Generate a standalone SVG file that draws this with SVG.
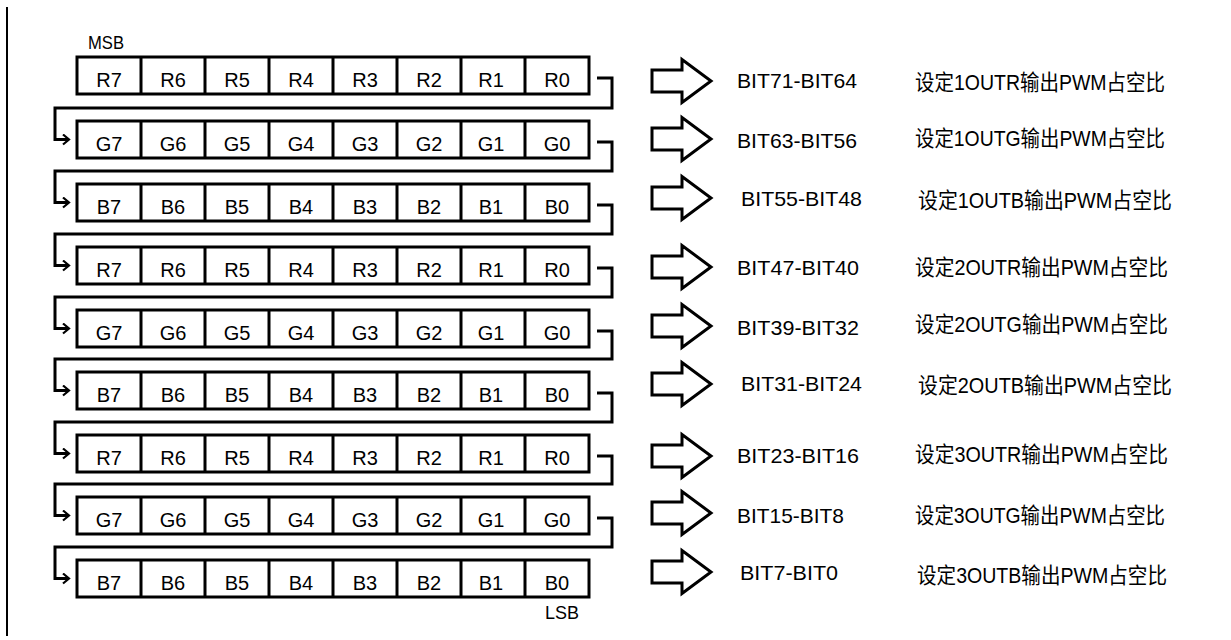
<svg xmlns="http://www.w3.org/2000/svg" width="1231" height="640" viewBox="0 0 1231 640">
<defs>
<style>
.cell{fill:none;stroke:#000;stroke-width:3}
.lbl{font-family:"Liberation Sans",Arial,sans-serif;font-size:20px;fill:#000;text-anchor:middle}
.bit{font-family:"Liberation Sans",Arial,sans-serif;font-size:21px;fill:#000}
.cn{font-family:"Liberation Sans","Noto Sans CJK SC",sans-serif;font-size:21.5px;fill:#000}
.conn{fill:none;stroke:#000;stroke-width:3}
.blk{fill:#fff;stroke:#000;stroke-width:3;stroke-linejoin:miter}
.tag{font-family:"Liberation Sans",Arial,sans-serif;font-size:18px;fill:#000}
</style>
<marker id="ah" markerUnits="userSpaceOnUse" markerWidth="12" markerHeight="14" refX="7" refY="6" orient="auto">
<path d="M1,1 L7,6 L1,11" fill="none" stroke="#000" stroke-width="2.2"/>
</marker>
</defs>
<rect width="1231" height="640" fill="#fff"/>
<line x1="7" y1="7" x2="7" y2="636" stroke="#000" stroke-width="2"/>
<text class="tag" x="88" y="49" textLength="36" lengthAdjust="spacingAndGlyphs">MSB</text>
<text class="tag" x="545" y="619" textLength="34" lengthAdjust="spacingAndGlyphs">LSB</text>

<g id="row1">
<rect class="cell" x="77" y="57" width="512" height="37"/>
<path class="cell" d="M141,57V94M205,57V94M269,57V94M333,57V94M397,57V94M461,57V94M525,57V94"/>
<text class="lbl" y="87"><tspan x="109">R7</tspan><tspan x="173">R6</tspan><tspan x="237">R5</tspan><tspan x="301">R4</tspan><tspan x="365">R3</tspan><tspan x="429">R2</tspan><tspan x="491">R1</tspan><tspan x="557">R0</tspan></text>
</g>
<g id="row2">
<rect class="cell" x="77" y="121" width="512" height="37"/>
<path class="cell" d="M141,121V158M205,121V158M269,121V158M333,121V158M397,121V158M461,121V158M525,121V158"/>
<text class="lbl" y="151"><tspan x="109">G7</tspan><tspan x="173">G6</tspan><tspan x="237">G5</tspan><tspan x="301">G4</tspan><tspan x="365">G3</tspan><tspan x="429">G2</tspan><tspan x="491">G1</tspan><tspan x="557">G0</tspan></text>
</g>
<g id="row3">
<rect class="cell" x="77" y="184" width="512" height="37"/>
<path class="cell" d="M141,184V221M205,184V221M269,184V221M333,184V221M397,184V221M461,184V221M525,184V221"/>
<text class="lbl" y="214"><tspan x="109">B7</tspan><tspan x="173">B6</tspan><tspan x="237">B5</tspan><tspan x="301">B4</tspan><tspan x="365">B3</tspan><tspan x="429">B2</tspan><tspan x="491">B1</tspan><tspan x="557">B0</tspan></text>
</g>
<g id="row4">
<rect class="cell" x="77" y="247" width="512" height="37"/>
<path class="cell" d="M141,247V284M205,247V284M269,247V284M333,247V284M397,247V284M461,247V284M525,247V284"/>
<text class="lbl" y="277"><tspan x="109">R7</tspan><tspan x="173">R6</tspan><tspan x="237">R5</tspan><tspan x="301">R4</tspan><tspan x="365">R3</tspan><tspan x="429">R2</tspan><tspan x="491">R1</tspan><tspan x="557">R0</tspan></text>
</g>
<g id="row5">
<rect class="cell" x="77" y="310" width="512" height="37"/>
<path class="cell" d="M141,310V347M205,310V347M269,310V347M333,310V347M397,310V347M461,310V347M525,310V347"/>
<text class="lbl" y="340"><tspan x="109">G7</tspan><tspan x="173">G6</tspan><tspan x="237">G5</tspan><tspan x="301">G4</tspan><tspan x="365">G3</tspan><tspan x="429">G2</tspan><tspan x="491">G1</tspan><tspan x="557">G0</tspan></text>
</g>
<g id="row6">
<rect class="cell" x="77" y="372" width="512" height="37"/>
<path class="cell" d="M141,372V409M205,372V409M269,372V409M333,372V409M397,372V409M461,372V409M525,372V409"/>
<text class="lbl" y="402"><tspan x="109">B7</tspan><tspan x="173">B6</tspan><tspan x="237">B5</tspan><tspan x="301">B4</tspan><tspan x="365">B3</tspan><tspan x="429">B2</tspan><tspan x="491">B1</tspan><tspan x="557">B0</tspan></text>
</g>
<g id="row7">
<rect class="cell" x="77" y="435" width="512" height="37"/>
<path class="cell" d="M141,435V472M205,435V472M269,435V472M333,435V472M397,435V472M461,435V472M525,435V472"/>
<text class="lbl" y="465"><tspan x="109">R7</tspan><tspan x="173">R6</tspan><tspan x="237">R5</tspan><tspan x="301">R4</tspan><tspan x="365">R3</tspan><tspan x="429">R2</tspan><tspan x="491">R1</tspan><tspan x="557">R0</tspan></text>
</g>
<g id="row8">
<rect class="cell" x="77" y="497" width="512" height="37"/>
<path class="cell" d="M141,497V534M205,497V534M269,497V534M333,497V534M397,497V534M461,497V534M525,497V534"/>
<text class="lbl" y="527"><tspan x="109">G7</tspan><tspan x="173">G6</tspan><tspan x="237">G5</tspan><tspan x="301">G4</tspan><tspan x="365">G3</tspan><tspan x="429">G2</tspan><tspan x="491">G1</tspan><tspan x="557">G0</tspan></text>
</g>
<g id="row9">
<rect class="cell" x="77" y="560" width="512" height="37"/>
<path class="cell" d="M141,560V597M205,560V597M269,560V597M333,560V597M397,560V597M461,560V597M525,560V597"/>
<text class="lbl" y="590"><tspan x="109">B7</tspan><tspan x="173">B6</tspan><tspan x="237">B5</tspan><tspan x="301">B4</tspan><tspan x="365">B3</tspan><tspan x="429">B2</tspan><tspan x="491">B1</tspan><tspan x="557">B0</tspan></text>
</g>

<g id="connectors">
<path class="conn" marker-end="url(#ah)" d="M597,78H612V108H55V139.5H69"/>
<path class="conn" marker-end="url(#ah)" d="M597,142H612V171H55V202.5H69"/>
<path class="conn" marker-end="url(#ah)" d="M597,205H612V234H55V265.5H69"/>
<path class="conn" marker-end="url(#ah)" d="M597,268H612V297H55V328.5H69"/>
<path class="conn" marker-end="url(#ah)" d="M597,331H612V359H55V390.5H69"/>
<path class="conn" marker-end="url(#ah)" d="M597,393H612V422H55V453.5H69"/>
<path class="conn" marker-end="url(#ah)" d="M597,456H612V484H55V515.5H69"/>
<path class="conn" marker-end="url(#ah)" d="M597,518H612V547H55V578.5H69"/>
</g>

<g id="out1">
<polygon class="blk" points="652,70 682,70 682,59.5 711,81 682,102.5 682,92 652,92"/>
<text class="bit" x="737" y="88" textLength="120" lengthAdjust="spacingAndGlyphs">BIT71-BIT64</text>
<text class="cn" x="915" y="90" textLength="250" lengthAdjust="spacingAndGlyphs">设定1OUTR输出PWM占空比</text>
</g>
<g id="out2">
<polygon class="blk" points="652,128 682,128 682,117.5 711,139 682,160.5 682,150 652,150"/>
<text class="bit" x="737" y="148" textLength="120" lengthAdjust="spacingAndGlyphs">BIT63-BIT56</text>
<text class="cn" x="915" y="146" textLength="250" lengthAdjust="spacingAndGlyphs">设定1OUTG输出PWM占空比</text>
</g>
<g id="out3">
<polygon class="blk" points="652,187 682,187 682,176.5 711,198 682,219.5 682,209 652,209"/>
<text class="bit" x="741" y="205.5" textLength="121" lengthAdjust="spacingAndGlyphs">BIT55-BIT48</text>
<text class="cn" x="918" y="208" textLength="254" lengthAdjust="spacingAndGlyphs">设定1OUTB输出PWM占空比</text>
</g>
<g id="out4">
<polygon class="blk" points="652,256 682,256 682,245.5 711,267 682,288.5 682,278 652,278"/>
<text class="bit" x="737" y="274.5" textLength="122" lengthAdjust="spacingAndGlyphs">BIT47-BIT40</text>
<text class="cn" x="915" y="275" textLength="253" lengthAdjust="spacingAndGlyphs">设定2OUTR输出PWM占空比</text>
</g>
<g id="out5">
<polygon class="blk" points="652,315 682,315 682,304.5 711,326 682,347.5 682,337 652,337"/>
<text class="bit" x="737" y="334.5" textLength="122" lengthAdjust="spacingAndGlyphs">BIT39-BIT32</text>
<text class="cn" x="915" y="332" textLength="253" lengthAdjust="spacingAndGlyphs">设定2OUTG输出PWM占空比</text>
</g>
<g id="out6">
<polygon class="blk" points="652,373 682,373 682,362.5 711,384 682,405.5 682,395 652,395"/>
<text class="bit" x="741" y="391" textLength="121" lengthAdjust="spacingAndGlyphs">BIT31-BIT24</text>
<text class="cn" x="918" y="393" textLength="254" lengthAdjust="spacingAndGlyphs">设定2OUTB输出PWM占空比</text>
</g>
<g id="out7">
<polygon class="blk" points="652,445 682,445 682,434.5 711,456 682,477.5 682,467 652,467"/>
<text class="bit" x="737" y="462.5" textLength="122" lengthAdjust="spacingAndGlyphs">BIT23-BIT16</text>
<text class="cn" x="915" y="462" textLength="253" lengthAdjust="spacingAndGlyphs">设定3OUTR输出PWM占空比</text>
</g>
<g id="out8">
<polygon class="blk" points="652,502 682,502 682,491.5 711,513 682,534.5 682,524 652,524"/>
<text class="bit" x="737" y="522.5" textLength="107" lengthAdjust="spacingAndGlyphs">BIT15-BIT8</text>
<text class="cn" x="915" y="523" textLength="250" lengthAdjust="spacingAndGlyphs">设定3OUTG输出PWM占空比</text>
</g>
<g id="out9">
<polygon class="blk" points="652,561 682,561 682,550.5 711,572 682,593.5 682,583 652,583"/>
<text class="bit" x="740" y="579.5" textLength="98" lengthAdjust="spacingAndGlyphs">BIT7-BIT0</text>
<text class="cn" x="917" y="583" textLength="250" lengthAdjust="spacingAndGlyphs">设定3OUTB输出PWM占空比</text>
</g>
</svg>
